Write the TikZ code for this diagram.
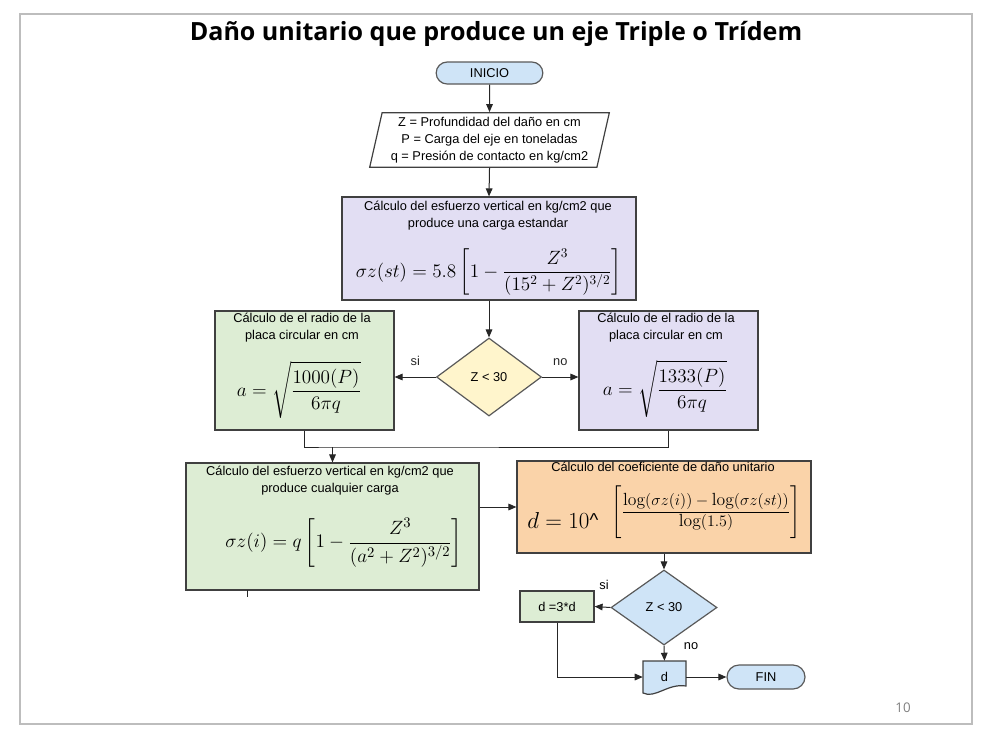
\documentclass[tikz,border=0pt]{standalone}
\usepackage{amsmath,amssymb}
\usepackage{fontspec}
\newfontfamily\flowfont{Liberation Sans}
\newfontfamily\slidefont{Open Sans}
\usepackage{xcolor}
\usepackage{tikz}
\usetikzlibrary{arrows.meta,positioning,shapes.geometric,shapes.misc,fit}

\definecolor{termazul}{HTML}{CFE4F7}
\definecolor{calclila}{HTML}{E2DEF3}
\definecolor{calcverde}{HTML}{DDEDD4}
\definecolor{decamar}{HTML}{FFF5CC}
\definecolor{calcnaranja}{HTML}{FAD3A9}

\begin{document}
\begin{tikzpicture}[x=0.75pt, y=-0.75pt,
  font=\flowfont\fontsize{9.6}{12.75}\selectfont,
  arr/.style={-{Triangle[length=6pt,width=5pt]}, line width=0.75pt, black!85},
  lin/.style={line width=0.75pt, black!85},
  caja/.style={draw=black!75, line width=0.9pt, inner sep=0pt},
  term/.style={rounded rectangle, draw=black!65, line width=0.9pt, fill=termazul, inner sep=0pt},
  deci/.style={diamond, draw=black!65, line width=0.9pt, inner sep=0pt},
  txt/.style={align=center, inner sep=0pt},
  frm/.style={inner sep=0pt, font=\fontsize{14.5}{17}\selectfont}]
\useasboundingbox (0,0) rectangle (988,743);
% ---- slide frame, title and page number ----
\draw[black!26, line width=0.8pt] (20,14) rectangle (972,724);
\node[txt, font=\slidefont\bfseries\fontsize{18.8}{22}\selectfont] (titulo) at (496,34)
  {Daño unitario que produce un eje Triple o Trídem};
\node[txt, font=\slidefont\fontsize{10}{12}\selectfont, black!50] (pagina) at (903,708) {10};
% ---- start and input ----
\node[term, minimum width=80pt, minimum height=16.5pt] (inicio) at (489.5,73) {INICIO};
\node[trapezium, trapezium left angle=76, trapezium right angle=104,
  trapezium stretches=true, draw=black!75, line width=0.9pt, inner sep=0pt,
  minimum width=180pt, minimum height=41pt, align=center] (datos) at (489.5,140)
  {Z = Profundidad del daño en cm\\P = Carga del eje en toneladas\\q = Presión de contacto en kg/cm2};
% ---- standard load stress ----
\node[caja, fill=calclila, fit={(342,197) (636,300)}] (esfst) {};
\node[txt] (esfsttit) at (488,216)
  {Cálculo del esfuerzo vertical en kg/cm2 que\\produce una carga estandar};
\node[frm] (esfstfrm) at (489,272)
  {$\sigma z(st)=5.8\left[1-\dfrac{Z^3}{(15^2+Z^2)^{3/2}}\right]$};
% ---- first decision and plate radius ----
\node[deci, fill=decamar, minimum width=78.75pt, minimum height=58.5pt] (dec1) at (489,377) {Z < 30};
\node[caja, fill=calcverde, fit={(215,311) (394,430)}] (radL) {};
\node[txt] (radLtit) at (302,328) {Cálculo de el radio de la\\placa circular en cm};
\node[frm, font=\fontsize{14.2}{17}\selectfont] (radLfrm) at (299,390) {$a=\sqrt{\dfrac{1000(P)}{6\pi q}}$};
\node[caja, fill=calclila, fit={(579,311) (758,430)}] (radR) {};
\node[txt] (radRtit) at (666,328) {Cálculo de el radio de la\\placa circular en cm};
\node[frm, font=\fontsize{14.2}{17}\selectfont] (radRfrm) at (665,389) {$a=\sqrt{\dfrac{1333(P)}{6\pi q}}$};
% ---- any load stress and damage coefficient ----
\node[caja, fill=calcverde, fit={(186,463) (479,590)}] (esfL) {};
\node[txt] (esfLtit) at (330,481)
  {Cálculo del esfuerzo vertical en kg/cm2 que\\produce cualquier carga};
\node[frm, font=\fontsize{15.2}{18}\selectfont] (esfLfrm) at (344,543)
  {$\sigma z(i)=q\left[1-\dfrac{Z^3}{(a^2+Z^2)^{3/2}}\right]$};
\node[caja, fill=calcnaranja, fit={(517,461) (811,553)}] (coef) {};
\node[txt] (coeftit) at (663,467) {Cálculo del coeficiente de daño unitario};
\node[inner sep=0pt, anchor=base west, font=\fontsize{19}{22}\selectfont] (coefbase) at (527,528)
  {$d=10${\flowfont\fontsize{14}{16}\selectfont\raisebox{1pt}{\^{}}}};
\node[frm, font=\fontsize{13.2}{15}\selectfont] (coefexp) at (706,512)
  {$\left[\rule[-16pt]{0pt}{31pt}\dfrac{\log(\sigma z(i))-\log(\sigma z(st))}{\log(1.5)}\right]$};
% ---- second decision and end ----
\node[deci, fill=termazul, minimum width=79.5pt, minimum height=56.25pt] (dec2) at (664,607.5) {Z < 30};
\node[caja, fill=calcverde, minimum width=55.5pt, minimum height=23.25pt] (mult) at (557,606.5) {d =3*d};
\draw[draw=black!75, line width=0.9pt, fill=termazul]
  (643,661) -- (686,661) -- (686,686) .. controls (668,683) and (655,699) .. (643,693) -- cycle;
\node[txt, minimum width=32.25pt, minimum height=24pt] (doc) at (664.5,677) {d};
\node[term, minimum width=58.5pt, minimum height=18pt] (fin) at (766,677) {FIN};
% ---- connectors ----
\draw[arr] (inicio.south) -- (datos.north);
\draw[arr] (datos.south) -- (esfst.north);
\draw[arr] (esfst.south) -- (dec1.north);
\draw[arr] (dec1.west) -- node[above=5pt] (si1) {si} (dec1.west -| radL.east);
\draw[arr] (dec1.east) -- node[above=5pt] (no1) {no} (dec1.east -| radR.west);
\coordinate (junta) at (esfL.north |- 0,447);
\draw[lin] (radL.south) |- (junta) -| (radR.south);
\draw[arr] (junta) -- (esfL.north);
\draw[lin] (247,590) -- (247,597);
\draw[arr] (esfL.east |- coef.west) -- (coef.west);
\draw[arr] (coef.south) -- (dec2.north);
\draw[arr] (dec2.west) -- (mult.east);
\node (si2) at (604,585) {si};
\draw[arr] (dec2.south) -- (doc.north);
\node (no2) at (691,646) {no};
\draw[arr] (mult.south) |- (doc.west);
\draw[arr] (doc.east) -- (fin.west);
\end{tikzpicture}
\end{document}
